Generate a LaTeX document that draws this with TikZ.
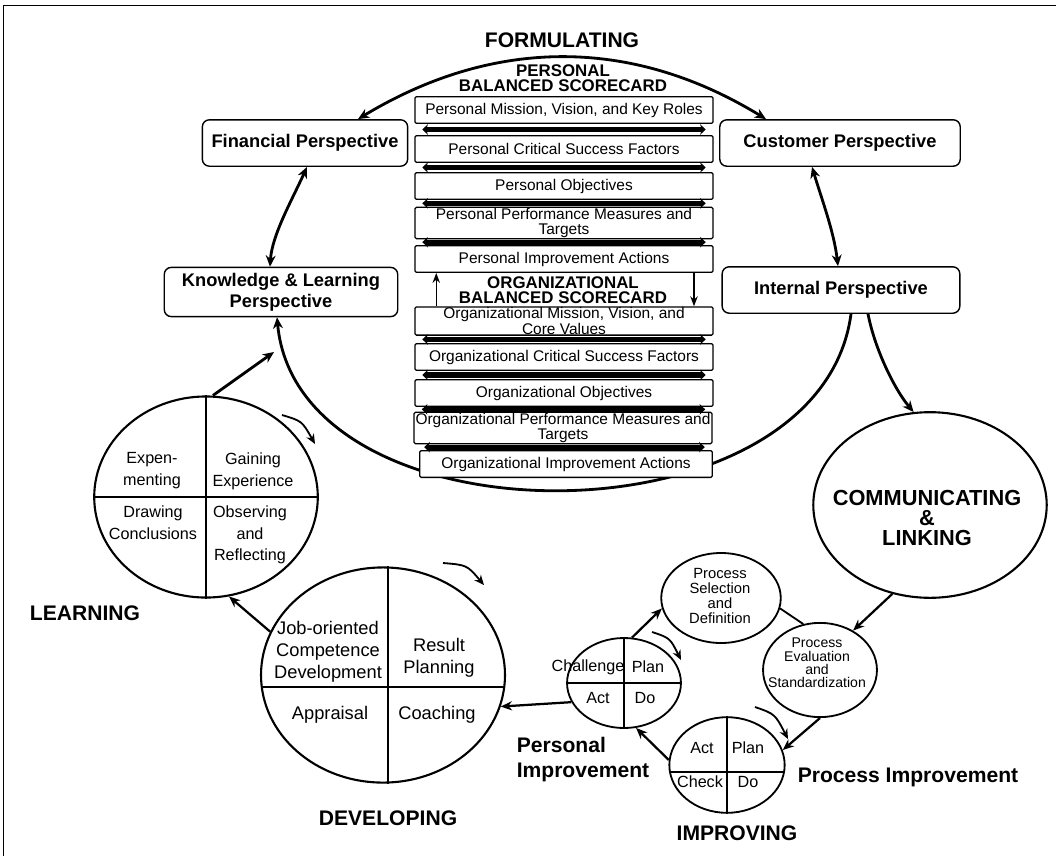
\documentclass[tikz,border=0pt]{standalone}
\usepackage{fontspec}
\setmainfont{Liberation Sans}
\usetikzlibrary{arrows.meta, positioning, calc, shapes.geometric}

\begin{document}
\begin{tikzpicture}[
    x=0.025cm, y=-0.025cm, >=Stealth,
    persp/.style={draw, fill=white, rounded corners=5pt, line width=1pt, align=center,
      font=\bfseries\fontsize{13}{15}\selectfont, inner sep=1pt},
    card/.style={draw, fill=white, rounded corners=1pt, line width=0.9pt, minimum width=212pt,
      minimum height=19pt, align=center, inner sep=0.5pt, font=\fontsize{11}{11}\selectfont},
    head/.style={align=center, font=\bfseries\fontsize{12}{10.7}\selectfont},
    stage/.style={align=left, font=\bfseries\fontsize{15}{17.8}\selectfont},
    disc/.style={draw, ellipse, line width=1.5pt, inner sep=0pt},
    cyc/.style={line width=2pt, >={Stealth[length=8pt,width=7pt]}},
    link/.style={line width=1.6pt, ->, >={Stealth[length=8pt,width=6.5pt]}},
    bar/.style={line width=3.6pt, {Stealth[length=4pt,width=7.5pt]}-{Stealth[length=4pt,width=7.5pt]}},
    turn/.style={line width=1.3pt, ->, >={Stealth[length=7pt,width=6pt]}},
    quad/.style={align=center, font=\fontsize{11.5}{15.5}\selectfont},
    big/.style={align=center, font=\fontsize{13}{15.5}\selectfont},
    pd/.style={font=\fontsize{11.5}{12}\selectfont},
    proc/.style={align=center, font=\fontsize{10.5}{10.5}\selectfont}
  ]
  \useasboundingbox (0,0) rectangle (1059,856);
  \draw[line width=0.7pt] (3,856) -- (3,5) -- (1056,5);

  % perspectives
  \node[persp, minimum width=146pt, minimum height=33pt] (fin) at (305,143) {Financial Perspective};
  \node[persp, minimum width=171pt, minimum height=33pt] (cust) at (840,143) {Customer Perspective};
  \node[persp, minimum width=166pt, minimum height=35pt] (know) at (281,292) {Knowledge \& Learning\\Perspective};
  \node[persp, minimum width=169pt, minimum height=33pt] (int) at (841,290) {Internal Perspective};

  % circles
  \node[disc, minimum width=159pt, minimum height=143pt] (kolb) at (206,497) {};
  \node[disc, minimum width=173.5pt, minimum height=153pt] (dev) at (383,675) {};
  \node[disc, minimum width=166pt, minimum height=132pt] (comm) at (930,505) {};
  \node[disc, line width=1.3pt, minimum width=85pt, minimum height=64pt] (ps) at (721,598) {};
  \node[disc, line width=1.3pt, minimum width=81pt, minimum height=67pt] (pe) at (820,670) {};
  \node[disc, line width=1.3pt, minimum width=81pt, minimum height=64pt] (pu) at (624,683) {};
  \node[disc, line width=1.3pt, minimum width=82pt, minimum height=68pt] (pl) at (727,765) {};

  % big cycle
  \coordinate (kjoin) at (274,352);
  \draw[cyc, <->] ($(fin.north)+(53,0)$) .. controls (494,37) and (632,37) .. ($(cust.north)+(-74,0)$);
  \draw[cyc, <->] ($(fin.south)+(2,0)$) .. controls (292,200) and (272,235) .. ($(know.north)+(-11,0)$);
  \draw[cyc, <->] ($(cust.south)+(-28,0)$) .. controls (822,200) and (834,232) .. ($(int.north)+(-3,0)$);
  \draw[cyc, ->] ($(int.south)+(10,0)$) .. controls (820,548) and (298,548) .. ($(know.south)+(-4,0)$);
  \draw[cyc, ->] ($(int.south)+(27,0)$) .. controls (875,350) and (895,390) .. (comm.100);
  \draw[cyc, ->] ($(kolb.north)+(7,0)$) -- (kjoin);

  % scorecards
  \node[stage] (form) at (562,40) {FORMULATING};
  \node[head] (phead) at (563,78) {PERSONAL\\BALANCED SCORECARD};
  \node[card] (pm1) at (564,110) {Personal Mission, Vision, and Key Roles};
  \node[card] (pm2) at (564,149) {Personal Critical Success Factors};
  \node[card] (pm3) at (564,186) {Personal Objectives};
  \node[card, minimum height=21pt] (pm4) at (564,223) {Personal Performance Measures and\\Targets};
  \node[card] (pm5) at (564,259) {Personal Improvement Actions};
  \node[head] (ohead) at (563,290) {ORGANIZATIONAL\\BALANCED SCORECARD};
  \node[card, minimum height=20pt] (om1) at (564,321) {Organizational Mission, Vision, and\\Core Values};
  \node[card] (om2) at (564,357) {Organizational Critical Success Factors};
  \node[card] (om3) at (564,393) {Organizational Objectives};
  \node[card, minimum height=22pt] (om4) at (563,428) {Organizational Performance Measures and\\Targets};
  \node[card, minimum width=208pt] (om5) at (566,464) {Organizational Improvement Actions};

  \foreach \a/\b in {pm1/pm2, pm2/pm3, pm3/pm4, pm4/pm5, om1/om2, om2/om3, om3/om4, om4/om5}
    \draw[bar] ($(\a.south west)!.5!(\b.north west)+(8,0)$) -- ($(\a.south east)!.5!(\b.north east)+(-8,0)$);
  \draw[->, line width=0.9pt] ([xshift=15.6pt]om1.north west) -- ([xshift=15.6pt]pm5.south west);
  \draw[->, line width=0.9pt] ([xshift=-14pt]pm5.south east) -- ([xshift=-14pt]om1.north east);

  % learning cycle
  \draw[line width=1.1pt] (kolb.north) -- (kolb.south);
  \draw[line width=1.1pt] (kolb.west) -- (kolb.east);
  \node[quad] (expm) at (152,471) {Expen-\\menting};
  \node[quad] (gain) at (253,471) {Gaining\\Experience};
  \node[quad] (draw) at (153,523) {Drawing\\Conclusions};
  \node[quad] (obsv) at (250,535) {Observing\\and\\Reflecting};
  \draw[turn] (282,415) .. controls (302,421) .. (315,444);
  \node[stage] (learn) at (85,613) {LEARNING};

  % developing
  \draw[line width=1.1pt] ($(dev.north)+(5,0)$) -- ($(dev.south)+(5,0)$);
  \draw[line width=1.1pt] ($(dev.west)+(1,12)$) -- ($(dev.east)+(-1,12)$);
  \node[big] (jobc) at (328,652) {Job-oriented\\Competence\\Development};
  \node[big] (resp) at (439,658) {Result\\Planning};
  \node[big] (appr) at (330,715) {Appraisal};
  \node[big] (coach) at (437,715) {Coaching};
  \draw[turn] (443,563) .. controls (467,565) .. (484,585);
  \draw[link] (dev.159) -- (kolb.-77);
  \node[stage] (devel) at (388,818) {DEVELOPING};

  % communicating & improving
  \node[align=center, font=\bfseries\fontsize{15.5}{14}\selectfont] (commtxt) at (927,518) {COMMUNICATING\\\&\\LINKING};
  \node[proc] (pstxt) at (720,596) {Process\\Selection\\and\\Definition};
  \node[proc, font=\fontsize{10}{9.5}\selectfont] (petxt) at (817,663) {Process\\Evaluation\\and\\Standardization};
  \draw[line width=1.1pt] (pu.north) -- (pu.south);
  \draw[line width=1.1pt] (pu.west) -- (pu.east);
  \draw[line width=1.1pt] (pl.north) -- (pl.south);
  \draw[line width=1.1pt] ($(pl.west)+(0.5,7)$) -- ($(pl.east)+(-0.5,7)$);
  \node[pd] (chal) at (588,667) {Challenge};
  \node[pd] (uplan) at (648,667) {Plan};
  \node[pd] (uact) at (598,698) {Act};
  \node[pd] (udo) at (645,698) {Do};
  \node[pd] (lact) at (702,748) {Act};
  \node[pd] (lplan) at (748,748) {Plan};
  \node[pd] (lchk) at (700,782) {Check};
  \node[pd] (ldo) at (748,782) {Do};

  \draw[link] (pu.200) -- (dev.-15);
  \draw[link] (pu.80) -- (ps.190);
  \draw[line width=1.3pt] (ps.-10) -- (pe.110);
  \draw[link] (comm.247) -- (pe.50);
  \draw[link] (pe.south) -- (pl.15);
  \draw[link] (pl.175) -- (pu.-75);
  \draw[turn] (652,632) .. controls (670,638) .. (681,660);
  \draw[turn] (755,707) .. controls (775,714) .. (788,739);

  \node[stage] (persimp) at (583,760) {Personal\\Improvement};
  \node[stage] (procimp) at (908,777) {Process Improvement};
  \node[stage] (impr) at (737,833) {IMPROVING};
\end{tikzpicture}
\end{document}
